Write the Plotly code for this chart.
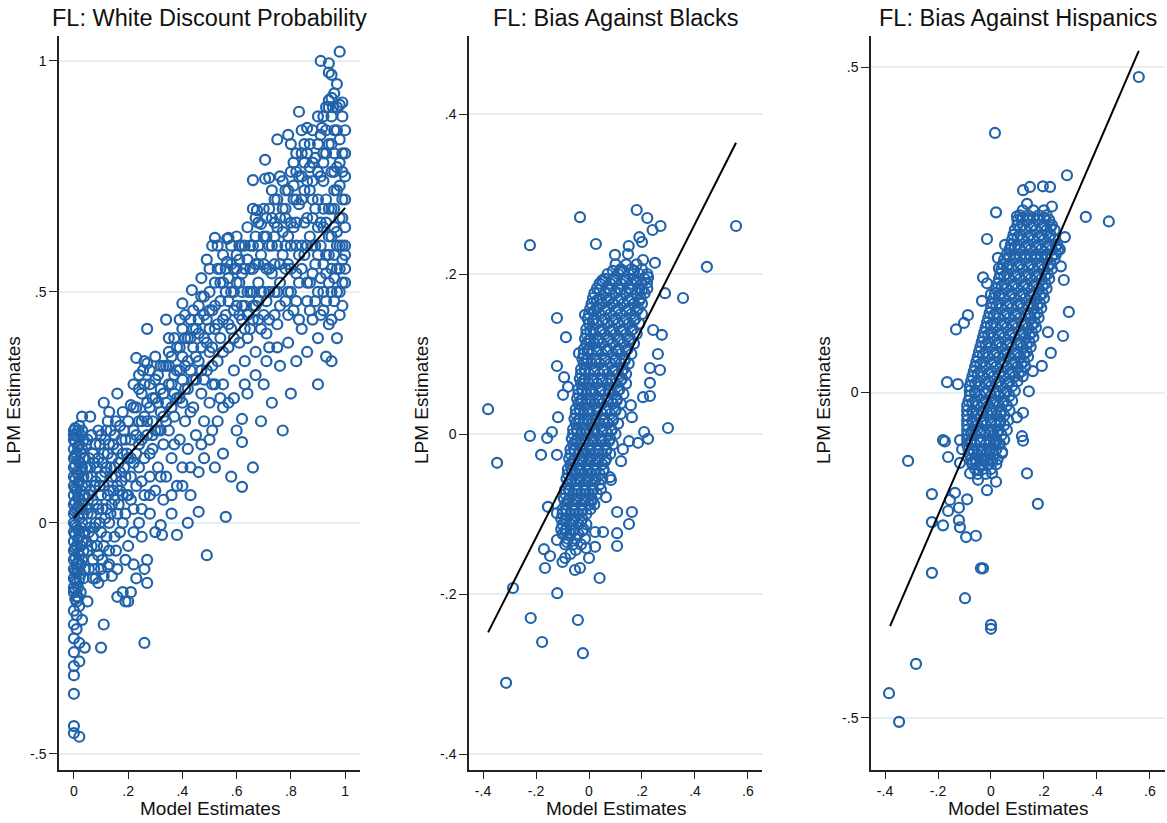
import plotly.graph_objects as go

# ---------------- data ----------------
# Panel 1: FL White Discount Probability  (model estimate, LPM estimate)
white_pts = [
    (0,0.2),(0,0.18),(0.01,0.19),(0,0.16),(0.02,0.17),(0.01,0.15),(0,0.14),(0.02,0.13),(0,0.12),(0.01,0.11),
    (0,0.1),(0.02,0.09),(0,0.08),(0.01,0.07),(0,0.06),(0.02,0.05),(0,0.04),(0.01,0.03),(0,0.02),(0.02,0.01),
    (0,0.0),(0.01,-0.01),(0,-0.02),(0.02,-0.03),(0,-0.04),(0.01,-0.05),(0,-0.06),(0.02,-0.07),(0,-0.08),(0.01,-0.09),
    (0,-0.1),(0.01,-0.11),(0,-0.12),(0.01,-0.13),(0,-0.14),(0.02,-0.12),(0,-0.15),(0.01,-0.17),(0,-0.19),(0.01,-0.2),
    (0,-0.22),(0.01,-0.23),(0,-0.25),(0.02,-0.26),(0,-0.28),(0.02,-0.3),(0,-0.31),(0,-0.33),(0,-0.37),(0,-0.44),
    (0,-0.455),(0.02,-0.463),(0.03,0.2),(0.03,0.16),(0.03,0.12),(0.03,0.08),(0.03,0.04),(0.03,0.0),(0.03,-0.04),(0.03,-0.08),
    (0.04,0.14),(0.04,0.06),(0.04,-0.02),(0.04,-0.1),(0.05,0.18),(0.05,0.1),(0.05,0.02),(0.05,-0.06),(0.03,0.23),(0.06,0.23),
    (0.05,-0.17),(0.04,-0.27),(0.1,-0.27),(0.11,-0.22),(0.03,-0.21),(0.26,-0.26),(0.02,0.21),(0.01,-0.16),(0.02,-0.18),(0.0,0.19),
    (0.06,0.12),(0.07,0.05),(0.07,-0.03),(0.08,0.17),(0.08,0.09),(0.08,0.0),(0.08,-0.12),(0.09,0.14),(0.09,0.03),(0.09,-0.07),
    (0.09,-0.13),(0.1,0.19),(0.1,0.1),(0.1,0.06),(0.1,-0.02),(0.11,0.26),(0.11,0.15),(0.11,0.08),(0.11,-0.05),(0.11,-0.115),
    (0.12,0.12),(0.12,0.03),(0.12,0.2),(0.125,0.22),(0.125,-0.095),(0.13,0.17),(0.13,0.07),(0.13,-0.06),(0.13,0.0),(0.14,0.1),
    (0.14,0.14),(0.14,-0.115),(0.14,0.04),(0.15,0.19),(0.15,-0.03),(0.15,0.12),(0.16,0.28),(0.16,0.08),(0.16,-0.16),(0.16,0.16),
    (0.16,0.02),(0.17,0.21),(0.17,0.11),(0.17,-0.02),(0.18,0.06),(0.18,0.15),(0.18,-0.15),(0.18,0.24),(0.19,0.18),(0.19,0.1),
    (0.19,-0.17),(0.19,0.02),(0.2,0.14),(0.2,0.22),(0.2,-0.17),(0.2,0.06),(0.2,-0.05),(0.21,0.255),(0.21,-0.15),(0.21,0.18),
    (0.21,0.1),(0.22,-0.09),(0.22,0.03),(0.22,0.2),(0.23,0.357),(0.23,-0.12),(0.23,0.15),(0.23,0.25),(0.23,0.08),(0.24,0.22),
    (0.24,0.0),(0.24,0.12),(0.25,0.28),(0.25,0.18),(0.25,-0.03),(0.255,0.33),(0.26,-0.1),(0.26,0.23),(0.26,0.06),(0.26,0.14),
    (0.27,0.42),(0.27,0.345),(0.27,-0.08),(0.27,-0.13),(0.27,0.26),(0.27,0.19),(0.28,0.1),(0.28,0.3),(0.28,0.02),(0.29,0.22),
    (0.29,0.16),(0.3,0.27),(0.3,0.07),(0.3,-0.02),(0.3,0.2),(0.31,0.32),(0.31,0.12),(0.32,-0.005),(0.32,0.24),(0.32,0.29),
    (0.325,-0.026),(0.33,0.17),(0.33,0.34),(0.33,0.05),(0.34,0.44),(0.34,0.34),(0.34,0.26),(0.34,0.1),(0.35,0.4),(0.35,0.3),
    (0.35,0.2),(0.36,0.36),(0.36,0.14),(0.36,0.02),(0.37,0.28),(0.37,0.23),(0.38,-0.026),(0.38,0.33),(0.38,0.08),(0.39,0.44),
    (0.39,0.38),(0.39,0.18),(0.4,0.475),(0.4,0.31),(0.4,0.26),(0.4,0.12),(0.41,0.4),(0.41,0.22),(0.42,0.0),(0.42,0.35),
    (0.42,0.29),(0.42,0.16),(0.43,0.44),(0.43,0.06),(0.435,0.504),(0.44,0.38),(0.44,0.25),(0.45,0.42),(0.45,0.31),(0.45,0.19),
    (0.46,0.024),(0.46,0.47),(0.46,0.35),(0.46,0.11),(0.47,0.49),(0.47,0.28),(0.48,0.4),(0.48,0.22),(0.48,0.14),(0.49,-0.07),
    (0.49,0.44),(0.49,0.33),(0.5,0.55),(0.5,0.5),(0.5,0.37),(0.5,0.26),(0.5,0.18),(0.51,0.6),(0.51,0.46),(0.51,0.3),
    (0.52,0.617),(0.52,0.42),(0.52,0.12),(0.53,0.55),(0.53,0.35),(0.53,0.22),(0.54,0.48),(0.54,0.4),(0.55,0.52),(0.55,0.3),
    (0.55,0.15),(0.56,0.013),(0.56,0.45),(0.565,0.565),(0.565,0.615),(0.57,0.617),(0.57,0.38),(0.57,0.26),(0.58,0.5),(0.58,0.42),
    (0.58,0.1),(0.59,0.55),(0.59,0.33),(0.6,0.58),(0.6,0.47),(0.6,0.2),(0.61,0.39),(0.61,0.52),(0.62,0.225),(0.62,0.175),
    (0.62,0.078),(0.62,0.6),(0.62,0.44),(0.63,0.55),(0.63,0.35),(0.64,0.5),(0.64,0.28),(0.65,0.6),(0.65,0.42),(0.66,0.742),
    (0.66,0.68),(0.66,0.55),(0.66,0.12),(0.67,0.47),(0.67,0.37),(0.675,0.677),(0.68,0.6),(0.68,0.52),(0.69,0.647),(0.69,0.42),
    (0.69,0.22),(0.7,0.56),(0.7,0.3),(0.705,0.786),(0.705,0.745),(0.71,0.62),(0.71,0.48),(0.72,0.747),(0.72,0.68),(0.72,0.55),
    (0.72,0.38),(0.73,0.6),(0.73,0.26),(0.74,0.7),(0.74,0.5),(0.75,0.83),(0.75,0.64),(0.75,0.43),(0.76,0.75),(0.76,0.56),
    (0.76,0.34),(0.77,0.68),(0.77,0.2),(0.78,0.6),(0.78,0.48),(0.79,0.84),(0.79,0.72),(0.79,0.39),(0.8,0.65),(0.8,0.55),
    (0.8,0.28),(0.81,0.78),(0.81,0.46),(0.82,0.7),(0.82,0.6),(0.82,0.35),(0.83,0.89),(0.83,0.52),(0.84,0.75),(0.84,0.42),
    (0.85,0.82),(0.85,0.65),(0.85,0.58),(0.86,0.855),(0.86,0.48),(0.86,0.37),(0.87,0.72),(0.87,0.62),(0.88,0.78),(0.88,0.54),
    (0.88,0.44),(0.89,0.68),(0.89,0.6),(0.9,0.82),(0.9,0.5),(0.9,0.4),(0.91,1.0),(0.91,0.75),(0.91,0.65),(0.915,0.855),
    (0.92,0.56),(0.92,0.46),(0.93,0.7),(0.93,0.8),(0.93,0.36),(0.94,0.995),(0.94,0.975),(0.94,0.915),(0.94,0.9),(0.94,0.62),
    (0.94,0.52),(0.95,0.97),(0.95,0.76),(0.95,0.44),(0.955,0.9),(0.96,0.68),(0.96,0.58),(0.96,0.85),(0.97,0.5),(0.97,0.72),
    (0.97,0.63),(0.98,1.02),(0.98,0.905),(0.98,0.83),(0.98,0.78),(0.98,0.55),(0.98,0.45),(0.99,0.66),(0.99,0.6),(0.99,0.7),
    (0.99,0.88),(1.0,0.75),(1.0,0.58),(1.0,0.52),(1.0,0.64),(0.97,0.4),(0.95,0.35),(0.9,0.3),(0.92,0.74),(0.96,0.8),
    (0.06,0.07),(0.07,0.15),(0.07,-0.08),(0.06,-0.01),(0.09,0.2),(0.12,-0.03),(0.13,0.24),(0.15,0.05),(0.17,0.07),(0.18,0.0),
    (0.21,0.05),(0.22,0.13),(0.24,0.17),(0.25,0.09),(0.28,0.15),(0.29,0.27),(0.31,0.2),(0.33,0.23),(0.36,0.3),(0.37,0.17),
    (0.39,0.27),(0.41,0.34),(0.43,0.24),(0.44,0.31),(0.47,0.38),(0.48,0.31),(0.51,0.38),(0.52,0.3),(0.54,0.27),(0.55,0.44),
    (0.57,0.48),(0.59,0.4),(0.61,0.45),(0.63,0.47),(0.64,0.4),(0.66,0.5),(0.67,0.56),(0.68,0.44),(0.7,0.5),(0.71,0.41),
    (0.73,0.54),(0.74,0.62),(0.75,0.5),(0.77,0.58),(0.78,0.66),(0.79,0.5),(0.81,0.64),(0.82,0.54),(0.83,0.69),(0.84,0.6),
    (0.86,0.66),(0.87,0.52),(0.88,0.7),(0.89,0.48),(0.9,0.58),(0.91,0.53),(0.92,0.64),(0.93,0.48),(0.95,0.55),(0.96,0.48),
    (0.005,0.205),(0.005,0.175),(0.005,0.145),(0.005,0.125),(0.005,0.095),(0.005,0.075),(0.005,0.045),(0.005,0.025),
    (0.005,-0.005),(0.005,-0.025),(0.005,-0.055),(0.005,-0.075),(0.005,-0.105),(0.005,-0.125),(0.005,-0.145),(0.005,-0.165),
    (0.015,0.2),(0.015,0.165),(0.015,0.135),(0.015,0.105),(0.015,0.085),(0.015,0.055),(0.015,0.035),(0.015,0.015),
    (0.015,-0.015),(0.015,-0.035),(0.015,-0.065),(0.015,-0.085),(0.015,-0.1),(0.015,-0.14),(0.015,-0.16),
    (0.025,0.19),(0.025,0.15),(0.025,0.11),(0.025,0.07),(0.025,0.03),(0.025,-0.01),(0.025,-0.05),(0.025,-0.09),
    (0.025,-0.11),(0.025,-0.15),(0.035,0.18),(0.035,0.14),(0.035,0.1),(0.035,0.06),(0.035,0.02),(0.035,-0.02),
    (0.035,-0.06),(0.035,-0.12),
    (0.045,0.17),(0.045,0.12),(0.045,0.08),(0.045,0.03),(0.045,-0.04),(0.055,0.14),(0.055,0.06),(0.055,-0.02),
    (0.055,-0.1),(0.065,0.19),(0.065,0.1),(0.065,0.02),(0.065,-0.05),(0.075,0.13),(0.075,0.08),(0.075,-0.01),
    (0.075,-0.1),(0.085,0.04),(0.085,0.12),(0.085,-0.05),(0.095,0.17),(0.095,0.08),(0.095,0.0),(0.105,0.13),
    (0.105,0.03),(0.105,-0.08),(0.115,0.18),(0.115,0.11),(0.115,0.01),(0.125,0.06),(0.125,0.15),(0.135,0.2),
    (0.135,0.12),(0.135,0.02),(0.145,0.07),(0.145,0.17),(0.155,0.22),(0.155,0.1),(0.155,-0.06),(0.165,0.13),
    (0.165,0.04),(0.175,0.18),(0.175,0.09),(0.185,0.12),(0.185,0.2),(0.195,0.06),(0.195,0.15),
    (0.21,0.14),(0.22,0.25),(0.23,0.19),(0.24,0.29),(0.25,0.22),(0.26,0.3),(0.27,0.22),(0.28,0.25),(0.29,0.19),
    (0.3,0.31),(0.31,0.26),(0.32,0.2),(0.33,0.28),(0.34,0.22),(0.35,0.34),(0.36,0.25),(0.37,0.32),(0.38,0.27),
    (0.39,0.33),(0.4,0.36),(0.41,0.29),(0.42,0.4),(0.43,0.33),(0.44,0.42),(0.45,0.36),(0.46,0.41),(0.47,0.33),
    (0.48,0.45),(0.49,0.39),(0.5,0.42),(0.51,0.34),(0.52,0.47),(0.53,0.43),(0.54,0.52),(0.55,0.37),(0.56,0.5),
    (0.57,0.43),(0.58,0.56),(0.59,0.46),(0.6,0.52),(0.61,0.57),(0.62,0.5),(0.63,0.42),(0.64,0.57),(0.65,0.5),
    (0.66,0.44),(0.67,0.62),(0.68,0.56),(0.69,0.5),(0.7,0.62),(0.71,0.55),(0.72,0.44),(0.73,0.66),(0.74,0.56),
    (0.75,0.6),(0.76,0.47),(0.77,0.63),(0.78,0.72),(0.79,0.56),(0.8,0.6),(0.81,0.7),(0.82,0.65),(0.83,0.58),
    (0.84,0.8),(0.85,0.72),(0.86,0.6),(0.87,0.77),(0.88,0.66),(0.89,0.56),(0.9,0.7),(0.91,0.6),(0.92,0.8),
    (0.93,0.58),(0.94,0.68),(0.95,0.62),(0.96,0.72),(0.97,0.55),(0.98,0.66),(0.99,0.52),(1.0,0.7),(0.99,0.8),
    (0.97,0.85),(0.96,0.64),(0.95,0.82),(0.93,0.65),(0.92,0.5),(0.94,0.43),(0.98,0.6),(0.99,0.47),(1.0,0.8),
    (1.0,0.6),(0.97,0.77),(0.95,0.68),(0.93,0.54),
    (0.6,0.62),(0.61,0.6),(0.62,0.54),(0.63,0.6),(0.64,0.64),(0.65,0.55),(0.66,0.6),(0.67,0.66),(0.68,0.65),
    (0.69,0.58),(0.7,0.68),(0.71,0.66),(0.72,0.6),(0.73,0.72),(0.74,0.65),(0.75,0.7),(0.76,0.66),(0.77,0.74),
    (0.78,0.68),(0.79,0.62),(0.8,0.76),(0.81,0.73),(0.82,0.8),(0.83,0.75),(0.84,0.7),(0.85,0.78),(0.86,0.74),
    (0.87,0.82),(0.88,0.74),(0.89,0.79),(0.9,0.76),(0.91,0.84),(0.92,0.78),(0.93,0.85),(0.94,0.82),(0.95,0.88),
    (0.96,0.76),(0.97,0.9),(0.98,0.73),(0.99,0.76),(1.0,0.85),
    (0.62,0.47),(0.64,0.45),(0.66,0.47),(0.68,0.48),(0.7,0.45),(0.72,0.5),(0.74,0.45),(0.76,0.52),(0.78,0.55),
    (0.8,0.5),(0.82,0.48),(0.84,0.55),(0.86,0.52),(0.88,0.6),(0.9,0.64),(0.92,0.68),(0.94,0.58),(0.96,0.53),
    (0.98,0.5),(1.0,0.55),(0.97,0.6),(0.99,0.57),(0.95,0.5),(0.91,0.45),(0.87,0.46),(0.83,0.44),(0.79,0.45),
    (0.75,0.38),(0.71,0.35),(0.67,0.32),(0.63,0.3),(0.59,0.27),(0.55,0.25),(0.51,0.2),(0.47,0.17),(0.43,0.12),
    (0.4,0.08),(0.36,0.06),(0.32,0.1),(0.28,0.06),(0.25,0.03),(0.22,-0.02),(0.19,-0.08),(0.16,-0.1),(0.13,-0.09),
    (0.1,-0.1),(0.07,-0.12),
    (0.44,0.46),(0.46,0.44),(0.48,0.49),(0.5,0.46),(0.52,0.52),(0.54,0.55),(0.56,0.55),(0.58,0.6),(0.6,0.55),
    (0.47,0.53),(0.49,0.57),(0.53,0.6),(0.55,0.58),(0.57,0.53),(0.59,0.5),
    (0.3,0.36),(0.32,0.34),(0.35,0.37),(0.37,0.4),(0.38,0.38),(0.4,0.42),(0.41,0.45),(0.43,0.4),(0.28,0.33),
    (0.26,0.35),(0.24,0.32),(0.22,0.3),
    (0.9,0.88),(0.92,0.88),(0.93,0.9),(0.95,0.92),(0.97,0.95),(0.99,0.91),(0.96,0.93),(0.88,0.85),(0.86,0.8),
    (0.84,0.85),(0.82,0.76),(0.8,0.82),
]

# Panel 2: FL Bias Against Blacks
black_pts = [
    (0.1,0.212),(0.14,0.212),(0.18,0.212),
    (0.07,0.2),(0.11,0.2),(0.15,0.2),(0.19,0.2),(0.22,0.2),
    (0.04,0.188),(0.08,0.188),(0.12,0.188),(0.16,0.188),(0.2,0.188),
    (0.02,0.176),(0.06,0.176),(0.1,0.176),(0.14,0.176),(0.18,0.176),(0.21,0.176),
    (0.01,0.163),(0.05,0.163),(0.09,0.163),(0.13,0.163),(0.17,0.163),(0.2,0.163),
    (0.0,0.15),(0.04,0.15),(0.08,0.15),(0.12,0.15),(0.16,0.15),(0.2,0.15),
    (0.0,0.138),(0.03,0.138),(0.07,0.138),(0.11,0.138),(0.15,0.138),(0.19,0.138),
    (-0.01,0.125),(0.02,0.125),(0.06,0.125),(0.1,0.125),(0.14,0.125),(0.18,0.125),
    (-0.01,0.113),(0.02,0.113),(0.05,0.113),(0.09,0.113),(0.13,0.113),(0.17,0.113),
    (-0.02,0.1),(0.01,0.1),(0.05,0.1),(0.09,0.1),(0.12,0.1),(0.16,0.1),
    (-0.02,0.088),(0.01,0.088),(0.04,0.088),(0.08,0.088),(0.12,0.088),(0.15,0.088),
    (-0.03,0.075),(0.0,0.075),(0.04,0.075),(0.07,0.075),(0.11,0.075),(0.14,0.075),
    (-0.03,0.063),(0.0,0.063),(0.03,0.063),(0.07,0.063),(0.1,0.063),(0.14,0.063),
    (-0.04,0.05),(-0.01,0.05),(0.02,0.05),(0.06,0.05),(0.09,0.05),(0.13,0.05),
    (-0.04,0.038),(-0.01,0.038),(0.02,0.038),(0.05,0.038),(0.09,0.038),(0.12,0.038),
    (-0.05,0.025),(-0.02,0.025),(0.01,0.025),(0.05,0.025),(0.08,0.025),(0.12,0.025),
    (-0.05,0.013),(-0.02,0.013),(0.01,0.013),(0.04,0.013),(0.07,0.013),(0.11,0.013),
    (-0.06,0.0),(-0.03,0.0),(0.0,0.0),(0.03,0.0),(0.07,0.0),(0.1,0.0),
    (-0.06,-0.013),(-0.03,-0.013),(0.0,-0.013),(0.03,-0.013),(0.06,-0.013),(0.09,-0.013),
    (-0.07,-0.025),(-0.04,-0.025),(-0.01,-0.025),(0.02,-0.025),(0.05,-0.025),(0.08,-0.025),
    (-0.07,-0.038),(-0.04,-0.038),(-0.01,-0.038),(0.02,-0.038),(0.05,-0.038),
    (-0.08,-0.05),(-0.05,-0.05),(-0.02,-0.05),(0.01,-0.05),(0.04,-0.05),
    (-0.08,-0.063),(-0.05,-0.063),(-0.02,-0.063),(0.01,-0.063),(0.04,-0.063),
    (-0.09,-0.075),(-0.06,-0.075),(-0.03,-0.075),(0.0,-0.075),(0.03,-0.075),
    (-0.09,-0.088),(-0.06,-0.088),(-0.03,-0.088),(0.0,-0.088),(0.02,-0.088),
    (-0.1,-0.1),(-0.07,-0.1),(-0.04,-0.1),(-0.01,-0.1),
    (-0.1,-0.113),(-0.07,-0.113),(-0.04,-0.113),(-0.01,-0.113),
    (-0.1,-0.125),(-0.07,-0.125),(-0.04,-0.125),
    (-0.09,-0.138),(-0.06,-0.138),(-0.03,-0.138),
    (0.12,0.206),(0.16,0.206),(0.2,0.206),
    (0.06,0.194),(0.09,0.194),(0.13,0.194),(0.17,0.194),(0.21,0.194),
    (0.03,0.182),(0.07,0.182),(0.11,0.182),(0.15,0.182),(0.19,0.182),(0.22,0.182),
    (0.015,0.17),(0.04,0.17),(0.08,0.17),(0.12,0.17),(0.16,0.17),(0.195,0.17),
    (0.005,0.157),(0.03,0.157),(0.07,0.157),(0.11,0.157),(0.15,0.157),(0.185,0.157),
    (-0.005,0.144),(0.02,0.144),(0.06,0.144),(0.1,0.144),(0.14,0.144),(0.175,0.144),
    (-0.01,0.131),(0.015,0.131),(0.05,0.131),(0.09,0.131),(0.13,0.131),(0.165,0.131),
    (-0.015,0.119),(0.005,0.119),(0.035,0.119),(0.075,0.119),(0.115,0.119),(0.155,0.119),
    (-0.02,0.106),(0.0,0.106),(0.03,0.106),(0.07,0.106),(0.11,0.106),(0.145,0.106),
    (-0.025,0.094),(-0.005,0.094),(0.025,0.094),(0.06,0.094),(0.1,0.094),(0.135,0.094),
    (-0.03,0.081),(-0.015,0.081),(0.02,0.081),(0.055,0.081),(0.095,0.081),(0.13,0.081),
    (-0.035,0.069),(-0.015,0.069),(0.015,0.069),(0.05,0.069),(0.085,0.069),(0.125,0.069),
    (-0.04,0.056),(-0.025,0.056),(0.005,0.056),(0.045,0.056),(0.075,0.056),(0.115,0.056),
    (-0.045,0.044),(-0.025,0.044),(0.005,0.044),(0.035,0.044),(0.07,0.044),(0.105,0.044),
    (-0.05,0.031),(-0.035,0.031),(-0.005,0.031),(0.03,0.031),(0.065,0.031),(0.1,0.031),
    (-0.055,0.019),(-0.035,0.019),(-0.005,0.019),(0.025,0.019),(0.055,0.019),(0.09,0.019),
    (-0.06,0.006),(-0.045,0.006),(-0.015,0.006),(0.015,0.006),(0.05,0.006),(0.085,0.006),
    (-0.065,-0.006),(-0.045,-0.006),(-0.015,-0.006),(0.015,-0.006),(0.045,-0.006),(0.08,-0.006),
    (-0.07,-0.019),(-0.055,-0.019),(-0.025,-0.019),(0.005,-0.019),(0.035,-0.019),(0.065,-0.019),
    (-0.075,-0.031),(-0.055,-0.031),(-0.025,-0.031),(0.005,-0.031),(0.035,-0.031),(0.065,-0.031),
    (-0.08,-0.044),(-0.065,-0.044),(-0.035,-0.044),(-0.005,-0.044),(0.025,-0.044),(0.055,-0.044),
    (-0.085,-0.056),(-0.065,-0.056),(-0.035,-0.056),(-0.005,-0.056),(0.025,-0.056),(0.05,-0.056),
    (-0.09,-0.069),(-0.075,-0.069),(-0.045,-0.069),(-0.015,-0.069),(0.015,-0.069),(0.045,-0.069),
    (-0.095,-0.081),(-0.075,-0.081),(-0.045,-0.081),(-0.015,-0.081),(0.01,-0.081),
    (-0.1,-0.094),(-0.085,-0.094),(-0.055,-0.094),(-0.025,-0.094),(0.005,-0.094),
    (-0.105,-0.106),(-0.085,-0.106),(-0.055,-0.106),(-0.025,-0.106),
    (-0.105,-0.119),(-0.085,-0.119),(-0.055,-0.119),(-0.02,-0.119),
    (-0.08,-0.131),(-0.05,-0.131),(-0.015,-0.131),
    (0.09,0.204),(0.13,0.204),(0.17,0.204),
    (0.05,0.192),(0.1,0.192),(0.14,0.192),(0.18,0.192),
    (0.04,0.18),(0.08,0.18),(0.12,0.18),(0.16,0.18),(0.2,0.18),
    (0.03,0.167),(0.07,0.167),(0.11,0.167),(0.15,0.167),(0.19,0.167),
    (0.02,0.154),(0.06,0.154),(0.1,0.154),(0.14,0.154),(0.18,0.154),
    (0.015,0.142),(0.05,0.142),(0.09,0.142),(0.13,0.142),(0.17,0.142),
    (0.005,0.129),(0.04,0.129),(0.08,0.129),(0.12,0.129),(0.16,0.129),
    (0.0,0.117),(0.035,0.117),(0.07,0.117),(0.11,0.117),(0.15,0.117),
    (-0.005,0.104),(0.03,0.104),(0.065,0.104),(0.105,0.104),(0.14,0.104),
    (-0.01,0.092),(0.025,0.092),(0.06,0.092),(0.1,0.092),(0.135,0.092),
    (-0.015,0.079),(0.02,0.079),(0.055,0.079),(0.09,0.079),(0.125,0.079),
    (-0.02,0.067),(0.015,0.067),(0.05,0.067),(0.085,0.067),(0.12,0.067),
    (-0.025,0.054),(0.01,0.054),(0.04,0.054),(0.075,0.054),(0.11,0.054),
    (-0.03,0.042),(0.005,0.042),(0.035,0.042),(0.07,0.042),(0.105,0.042),
    (-0.035,0.029),(0.0,0.029),(0.03,0.029),(0.065,0.029),(0.1,0.029),
    (-0.04,0.017),(-0.005,0.017),(0.025,0.017),(0.055,0.017),(0.09,0.017),
    (-0.045,0.004),(-0.01,0.004),(0.02,0.004),(0.05,0.004),(0.085,0.004),
    (-0.05,-0.009),(-0.015,-0.009),(0.015,-0.009),(0.045,-0.009),(0.075,-0.009),
    (-0.055,-0.021),(-0.02,-0.021),(0.005,-0.021),(0.035,-0.021),(0.065,-0.021),
    (-0.06,-0.034),(-0.025,-0.034),(0.0,-0.034),(0.03,-0.034),(0.06,-0.034),
    (-0.065,-0.046),(-0.03,-0.046),(-0.005,-0.046),(0.025,-0.046),(0.055,-0.046),
    (-0.07,-0.059),(-0.035,-0.059),(-0.01,-0.059),(0.02,-0.059),
    (-0.075,-0.071),(-0.045,-0.071),(-0.015,-0.071),(0.015,-0.071),
    (-0.08,-0.084),(-0.05,-0.084),(-0.02,-0.084),(0.01,-0.084),
    (-0.085,-0.096),(-0.055,-0.096),(-0.025,-0.096),
    (-0.09,-0.109),(-0.06,-0.109),(-0.03,-0.109),
    (-0.09,-0.121),(-0.06,-0.121),(-0.025,-0.121),
    (-0.034,0.271),(0.026,0.2375),(0.18,0.28),(0.22,0.27),(0.27,0.26),(0.24,0.255),(0.19,0.246),(0.15,0.235),(0.2,0.24),(0.555,0.26),
    (-0.121,0.145),(-0.087,0.121),(-0.121,0.085),(-0.094,0.071),(-0.079,0.059),(-0.098,0.049),(-0.038,0.101),(-0.015,0.149),
    (0.053,0.191),(0.03,0.159),(0.064,0.17),(-0.117,0.021),(-0.14,0.0025),(-0.158,-0.005),(-0.181,-0.026),(-0.121,-0.026),
    (-0.223,-0.0025),(-0.155,-0.091),(-0.121,-0.099),(-0.121,-0.1325),(-0.083,-0.135),(-0.17,-0.144),(0.023,-0.1225),
    (0.053,-0.1225),(0.023,-0.141),(0.106,-0.14),(0.106,-0.124),(0.106,-0.0975),(0.162,-0.0975),(0.151,-0.1125),(0.064,-0.079),
    (0.079,-0.054),(0.083,-0.0575),(0.121,-0.034),(0.128,-0.019),(0.151,-0.009),(0.185,-0.011),(0.208,0.0025),(0.223,-0.006),
    (0.298,0.0075),(0.162,0.021),(0.158,0.036),(0.204,0.046),(0.23,0.0475),(0.23,0.064),(0.23,0.0825),(0.268,0.08),(0.26,0.1),
    (0.275,0.124),(0.242,0.13),(0.287,0.176),(0.355,0.17),(0.445,0.209),(0.204,0.2175),(0.249,0.214),(0.147,0.225),(0.098,0.224),
    (0.117,0.204),(0.166,0.2),(0.223,0.196),(0.219,0.189),(0.181,0.189),
    (-0.287,-0.1925),(-0.22,-0.23),(-0.177,-0.26),(-0.023,-0.274),(-0.042,-0.2325),(-0.12,-0.199),(-0.313,-0.311),(-0.166,-0.1675),
    (-0.147,-0.1525),(-0.053,-0.17),(-0.034,-0.1675),(0.04,-0.18),(-0.011,-0.1425),(-0.09,-0.155),(-0.07,-0.15),(-0.1,-0.16),
    (-0.381,0.031),(-0.347,-0.036),(-0.223,0.236),(0.0,-0.155),(-0.05,-0.145),
]

# Panel 3: FL Bias Against Hispanics
hisp_pts = [
    (0.12,0.28),(0.16,0.28),(0.2,0.28),
    (0.1,0.265),(0.14,0.265),(0.18,0.265),(0.22,0.265),
    (0.09,0.25),(0.13,0.25),(0.17,0.25),(0.21,0.25),(0.24,0.25),
    (0.08,0.235),(0.12,0.235),(0.16,0.235),(0.2,0.235),(0.24,0.235),
    (0.07,0.22),(0.11,0.22),(0.15,0.22),(0.19,0.22),(0.23,0.22),(0.26,0.22),
    (0.05,0.205),(0.09,0.205),(0.13,0.205),(0.17,0.205),(0.21,0.205),(0.24,0.205),
    (0.04,0.19),(0.08,0.19),(0.12,0.19),(0.16,0.19),(0.2,0.19),(0.23,0.19),
    (0.03,0.175),(0.07,0.175),(0.11,0.175),(0.15,0.175),(0.19,0.175),(0.22,0.175),
    (0.02,0.16),(0.06,0.16),(0.1,0.16),(0.14,0.16),(0.18,0.16),(0.21,0.16),
    (0.01,0.145),(0.05,0.145),(0.09,0.145),(0.13,0.145),(0.17,0.145),(0.2,0.145),
    (0.0,0.13),(0.04,0.13),(0.08,0.13),(0.12,0.13),(0.16,0.13),(0.19,0.13),
    (-0.01,0.115),(0.03,0.115),(0.07,0.115),(0.11,0.115),(0.15,0.115),(0.18,0.115),
    (-0.02,0.1),(0.02,0.1),(0.06,0.1),(0.1,0.1),(0.14,0.1),(0.17,0.1),
    (-0.03,0.085),(0.01,0.085),(0.05,0.085),(0.09,0.085),(0.13,0.085),(0.16,0.085),
    (-0.04,0.07),(0.0,0.07),(0.04,0.07),(0.08,0.07),(0.12,0.07),(0.15,0.07),
    (-0.05,0.055),(-0.01,0.055),(0.03,0.055),(0.07,0.055),(0.11,0.055),(0.14,0.055),
    (-0.06,0.04),(-0.02,0.04),(0.02,0.04),(0.06,0.04),(0.1,0.04),(0.13,0.04),
    (-0.07,0.025),(-0.03,0.025),(0.01,0.025),(0.05,0.025),(0.09,0.025),(0.12,0.025),
    (-0.08,0.01),(-0.04,0.01),(0.0,0.01),(0.04,0.01),(0.08,0.01),
    (-0.08,-0.005),(-0.04,-0.005),(0.0,-0.005),(0.03,-0.005),(0.07,-0.005),
    (-0.09,-0.02),(-0.05,-0.02),(-0.01,-0.02),(0.03,-0.02),(0.06,-0.02),
    (-0.09,-0.035),(-0.05,-0.035),(-0.01,-0.035),(0.02,-0.035),(0.05,-0.035),
    (-0.09,-0.05),(-0.05,-0.05),(-0.02,-0.05),(0.02,-0.05),(0.05,-0.05),
    (-0.09,-0.065),(-0.06,-0.065),(-0.02,-0.065),(0.01,-0.065),(0.04,-0.065),
    (-0.09,-0.08),(-0.06,-0.08),(-0.02,-0.08),(0.01,-0.08),(0.03,-0.08),
    (-0.08,-0.095),(-0.05,-0.095),(-0.02,-0.095),(0.01,-0.095),
    (-0.07,-0.11),(-0.04,-0.11),(-0.01,-0.11),(0.02,-0.11),
    (-0.05,-0.125),(-0.02,-0.125),
    (0.11,0.2725),(0.14,0.2725),(0.18,0.2725),(0.21,0.2725),
    (0.1,0.2575),(0.12,0.2575),(0.16,0.2575),(0.2,0.2575),(0.23,0.2575),
    (0.085,0.2425),(0.11,0.2425),(0.15,0.2425),(0.19,0.2425),(0.225,0.2425),
    (0.075,0.2275),(0.1,0.2275),(0.14,0.2275),(0.18,0.2275),(0.22,0.2275),(0.25,0.2275),
    (0.06,0.2125),(0.09,0.2125),(0.13,0.2125),(0.17,0.2125),(0.21,0.2125),(0.245,0.2125),
    (0.045,0.1975),(0.07,0.1975),(0.11,0.1975),(0.15,0.1975),(0.19,0.1975),(0.225,0.1975),
    (0.035,0.1825),(0.06,0.1825),(0.1,0.1825),(0.14,0.1825),(0.18,0.1825),(0.215,0.1825),
    (0.025,0.1675),(0.05,0.1675),(0.09,0.1675),(0.13,0.1675),(0.17,0.1675),(0.205,0.1675),
    (0.015,0.1525),(0.04,0.1525),(0.08,0.1525),(0.12,0.1525),(0.16,0.1525),(0.195,0.1525),
    (0.005,0.1375),(0.03,0.1375),(0.07,0.1375),(0.11,0.1375),(0.15,0.1375),(0.185,0.1375),
    (-0.005,0.1225),(0.02,0.1225),(0.06,0.1225),(0.1,0.1225),(0.14,0.1225),(0.175,0.1225),
    (-0.015,0.1075),(0.01,0.1075),(0.05,0.1075),(0.09,0.1075),(0.13,0.1075),(0.165,0.1075),
    (-0.025,0.0925),(0.0,0.0925),(0.04,0.0925),(0.08,0.0925),(0.12,0.0925),(0.155,0.0925),
    (-0.035,0.0775),(-0.01,0.0775),(0.03,0.0775),(0.07,0.0775),(0.11,0.0775),(0.145,0.0775),
    (-0.045,0.0625),(-0.02,0.0625),(0.02,0.0625),(0.06,0.0625),(0.1,0.0625),(0.135,0.0625),
    (-0.055,0.0475),(-0.03,0.0475),(0.01,0.0475),(0.05,0.0475),(0.09,0.0475),(0.125,0.0475),
    (-0.065,0.0325),(-0.04,0.0325),(0.0,0.0325),(0.04,0.0325),(0.08,0.0325),(0.115,0.0325),
    (-0.075,0.0175),(-0.05,0.0175),(-0.01,0.0175),(0.03,0.0175),(0.07,0.0175),(0.1,0.0175),
    (-0.08,0.0025),(-0.06,0.0025),(-0.02,0.0025),(0.02,0.0025),(0.06,0.0025),(0.09,0.0025),
    (-0.085,-0.0125),(-0.06,-0.0125),(-0.02,-0.0125),(0.015,-0.0125),(0.05,-0.0125),(0.08,-0.0125),
    (-0.09,-0.0275),(-0.07,-0.0275),(-0.03,-0.0275),(0.005,-0.0275),(0.04,-0.0275),(0.07,-0.0275),
    (-0.09,-0.0425),(-0.07,-0.0425),(-0.03,-0.0425),(0.0,-0.0425),(0.035,-0.0425),(0.065,-0.0425),
    (-0.09,-0.0575),(-0.07,-0.0575),(-0.04,-0.0575),(0.0,-0.0575),(0.03,-0.0575),(0.06,-0.0575),
    (-0.09,-0.0725),(-0.075,-0.0725),(-0.04,-0.0725),(-0.005,-0.0725),(0.02,-0.0725),(0.05,-0.0725),
    (-0.085,-0.0875),(-0.07,-0.0875),(-0.035,-0.0875),(-0.005,-0.0875),(0.02,-0.0875),
    (-0.075,-0.1025),(-0.06,-0.1025),(-0.03,-0.1025),(0.0,-0.1025),(0.025,-0.1025),
    (-0.06,-0.1175),(-0.03,-0.1175),(0.0,-0.1175),
    (0.12,0.269),(0.16,0.269),(0.2,0.269),
    (0.11,0.254),(0.15,0.254),(0.19,0.254),(0.225,0.254),
    (0.1,0.239),(0.14,0.239),(0.18,0.239),(0.22,0.239),
    (0.09,0.224),(0.13,0.224),(0.17,0.224),(0.21,0.224),(0.245,0.224),
    (0.07,0.209),(0.11,0.209),(0.15,0.209),(0.19,0.209),(0.23,0.209),
    (0.06,0.194),(0.1,0.194),(0.14,0.194),(0.18,0.194),(0.215,0.194),
    (0.05,0.179),(0.09,0.179),(0.13,0.179),(0.17,0.179),(0.205,0.179),
    (0.04,0.164),(0.08,0.164),(0.12,0.164),(0.16,0.164),(0.195,0.164),
    (0.03,0.149),(0.07,0.149),(0.11,0.149),(0.15,0.149),(0.185,0.149),
    (0.02,0.134),(0.06,0.134),(0.1,0.134),(0.14,0.134),(0.175,0.134),
    (0.01,0.119),(0.05,0.119),(0.09,0.119),(0.13,0.119),(0.165,0.119),
    (0.0,0.104),(0.04,0.104),(0.08,0.104),(0.12,0.104),(0.155,0.104),
    (-0.01,0.089),(0.03,0.089),(0.07,0.089),(0.11,0.089),(0.145,0.089),
    (-0.02,0.074),(0.02,0.074),(0.06,0.074),(0.1,0.074),(0.135,0.074),
    (-0.03,0.059),(0.01,0.059),(0.05,0.059),(0.09,0.059),(0.125,0.059),
    (-0.04,0.044),(0.0,0.044),(0.04,0.044),(0.08,0.044),(0.115,0.044),
    (-0.05,0.029),(-0.01,0.029),(0.03,0.029),(0.07,0.029),(0.105,0.029),
    (-0.06,0.014),(-0.02,0.014),(0.02,0.014),(0.06,0.014),
    (-0.06,-0.001),(-0.02,-0.001),(0.015,-0.001),(0.05,-0.001),
    (-0.07,-0.016),(-0.03,-0.016),(0.01,-0.016),(0.045,-0.016),
    (-0.07,-0.031),(-0.03,-0.031),(0.0,-0.031),(0.035,-0.031),
    (-0.07,-0.046),(-0.035,-0.046),(0.0,-0.046),(0.035,-0.046),
    (-0.075,-0.061),(-0.04,-0.061),(-0.005,-0.061),(0.025,-0.061),
    (-0.075,-0.076),(-0.04,-0.076),(-0.005,-0.076),(0.02,-0.076),
    (-0.065,-0.091),(-0.035,-0.091),(-0.005,-0.091),
    (-0.055,-0.106),(-0.025,-0.106),(0.005,-0.106),
    (0.287,0.334),(0.121,0.311),(0.147,0.316),(0.196,0.317),(0.223,0.316),(0.136,0.29),(0.019,0.277),(0.098,0.271),(0.23,0.286),
    (0.358,0.27),(0.445,0.263),(-0.015,0.236),(0.053,0.227),(0.072,0.22),(0.279,0.239),(0.253,0.22),(0.026,0.207),(0.03,0.191),
    (0.264,0.194),(-0.03,0.177),(-0.015,0.168),(0.275,0.173),(-0.034,0.141),(0.0,0.151),(0.294,0.124),(-0.087,0.119),
    (-0.102,0.107),(-0.132,0.097),(0.272,0.087),(0.215,0.093),(0.226,0.061),(0.192,0.041),(0.158,0.033),(-0.166,0.016),
    (-0.125,0.013),(0.143,0.002),(0.121,-0.031),(0.098,-0.038),(0.117,-0.067),(0.121,-0.074),(-0.181,-0.073),(-0.117,-0.073),
    (-0.109,-0.087),(-0.162,-0.099),(-0.313,-0.105),(0.136,-0.124),(0.042,-0.091),(0.034,-0.079),(-0.174,-0.075),
    (0.177,-0.171),(-0.223,-0.156),(-0.223,-0.199),(-0.181,-0.204),(-0.162,-0.182),(-0.121,-0.177),(-0.121,-0.196),
    (-0.117,-0.207),(-0.094,-0.222),(-0.057,-0.22),(-0.09,-0.164),(-0.136,-0.154),(-0.155,-0.165),(-0.223,-0.277),
    (-0.038,-0.27),(-0.03,-0.27),(-0.098,-0.316),(0.0,-0.357),(0.0,-0.363),(-0.283,-0.417),(-0.385,-0.462),(-0.347,-0.506),
    (-0.079,-0.124),(-0.049,-0.134),(-0.015,-0.15),(0.019,-0.137),(0.004,-0.124),(-0.038,-0.113),(0.042,-0.093),(-0.117,-0.108),
    (-0.072,-0.107),(0.015,0.399),(0.558,0.485),
]

# Fitted lines (end points)
white_fit_x = [0.0, 1.0]
white_fit_y = [0.011, 0.682]
black_fit_x = [-0.381, 0.555]
black_fit_y = [-0.248, 0.364]
hisp_fit_x = [-0.381, 0.558]
hisp_fit_y = [-0.359, 0.525]

titles = ["FL: White Discount Probability", "FL: Bias Against Blacks", "FL: Bias Against Hispanics"]
x_ticks = [[0, 0.2, 0.4, 0.6, 0.8, 1], [-0.4, -0.2, 0, 0.2, 0.4, 0.6], [-0.4, -0.2, 0, 0.2, 0.4, 0.6]]
x_ticktext = [["0", ".2", ".4", ".6", ".8", "1"], ["-.4", "-.2", "0", ".2", ".4", ".6"], ["-.4", "-.2", "0", ".2", ".4", ".6"]]
y_ticks = [[-0.5, 0, 0.5, 1], [-0.4, -0.2, 0, 0.2, 0.4], [-0.5, 0, 0.5]]
y_ticktext = [["-.5", "0", ".5", "1"], ["-.4", "-.2", "0", ".2", ".4"], ["-.5", "0", ".5"]]

# ---------------- figure ----------------
W, H = 1167, 823
FONT = "Liberation Sans, Arial, Helvetica, sans-serif"
BLUE = "#2163ab"
GRID = "#e7eef2"

x_dom_px = [(59, 360), (469, 762), (871, 1165)]
y_dom = [53 / H, 787 / H]
x_ranges = [[-0.055, 1.055], [-0.453, 0.653], [-0.453, 0.657]]
y_ranges = [[-0.535, 1.054], [-0.42, 0.4975], [-0.58, 0.548]]

fig = go.Figure()
panels = [(white_pts, white_fit_x, white_fit_y), (black_pts, black_fit_x, black_fit_y), (hisp_pts, hisp_fit_x, hisp_fit_y)]
for i, (pts, fx, fy) in enumerate(panels):
    sfx = "" if i == 0 else str(i + 1)
    fig.add_trace(go.Scatter(
        x=[p[0] for p in pts], y=[p[1] for p in pts], mode="markers",
        marker=dict(symbol="circle-open", size=10, color=BLUE, line=dict(width=2.2, color=BLUE)),
        xaxis="x" + sfx, yaxis="y" + sfx, showlegend=False, hoverinfo="skip"))
    fig.add_trace(go.Scatter(
        x=fx, y=fy, mode="lines", line=dict(color="black", width=2),
        xaxis="x" + sfx, yaxis="y" + sfx, showlegend=False, hoverinfo="skip"))

layout = dict(
    width=W, height=H, margin=dict(l=0, r=0, t=0, b=0),
    paper_bgcolor="white", plot_bgcolor="white",
    font=dict(family=FONT, color="#111"),
    annotations=[],
)
for i in range(3):
    sfx = "" if i == 0 else str(i + 1)
    x0, x1 = x_dom_px[i]
    layout["xaxis" + sfx] = dict(
        domain=[x0 / W, x1 / W], range=x_ranges[i], anchor="y" + sfx,
        showgrid=False, zeroline=False, showline=True, linecolor="#222", linewidth=1.5,
        ticks="outside", ticklen=7, tickwidth=1.3, tickcolor="#222",
        tickvals=x_ticks[i], ticktext=x_ticktext[i], tickfont=dict(size=14, family=FONT, color="#111"))
    layout["yaxis" + sfx] = dict(
        domain=y_dom, range=y_ranges[i], anchor="x" + sfx,
        showgrid=True, gridcolor=GRID, gridwidth=1.5, zeroline=False,
        showline=True, linecolor="#222", linewidth=1.5,
        ticks="outside", ticklen=8, tickwidth=1.3, tickcolor="#222",
        tickvals=y_ticks[i], ticktext=y_ticktext[i], tickfont=dict(size=14, family=FONT, color="#111"))
    cx = (x0 + x1) / 2 / W
    layout["annotations"].append(dict(text=titles[i], x=cx, y=1 - 18 / H, xref="paper", yref="paper",
                                      showarrow=False, font=dict(size=23.5, family=FONT, color="#111"),
                                      xanchor="center", yanchor="middle"))
    layout["annotations"].append(dict(text="Model Estimates", x=cx, y=1 - 808 / H, xref="paper", yref="paper",
                                      showarrow=False, font=dict(size=19, family=FONT, color="#111"),
                                      xanchor="center", yanchor="middle"))
    ylab_x = [13, 421, 823][i]
    layout["annotations"].append(dict(text="LPM Estimates", x=ylab_x / W, y=1 - 400 / H, xref="paper", yref="paper",
                                      showarrow=False, textangle=-90, font=dict(size=19, family=FONT, color="#111"),
                                      xanchor="center", yanchor="middle"))

fig.update_layout(**layout)
fig.write_html("out.html")
